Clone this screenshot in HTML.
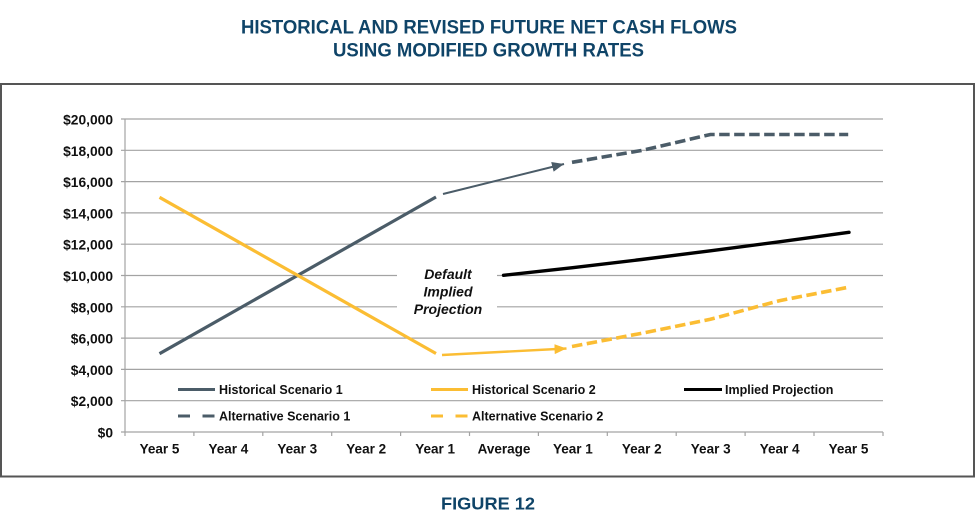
<!DOCTYPE html>
<html>
<head>
<meta charset="utf-8">
<style>
  html,body{margin:0;padding:0;background:#fff;}
  body{width:976px;height:532px;overflow:hidden;}
  svg{display:block;}
  text{font-family:"Liberation Sans", Arial, sans-serif;}
</style>
</head>
<body>
<svg width="976" height="532" viewBox="0 0 976 532" xmlns="http://www.w3.org/2000/svg">
  <defs>
    <marker id="arD" viewBox="0 0 12 10" refX="12" refY="5" markerWidth="12" markerHeight="10" markerUnits="userSpaceOnUse" orient="auto">
      <path d="M0,0 L12,5 L0,10 z" fill="#4b5c68"/>
    </marker>
    <marker id="arY" viewBox="0 0 12 10" refX="12" refY="5" markerWidth="12" markerHeight="10" markerUnits="userSpaceOnUse" orient="auto">
      <path d="M0,0 L12,5 L0,10 z" fill="#fbbd33"/>
    </marker>
  </defs>

  <!-- Title -->
  <g fill="#0f4468" font-weight="bold" font-size="19.5" text-anchor="middle">
    <text x="489" y="33.3" textLength="496" lengthAdjust="spacingAndGlyphs">HISTORICAL AND REVISED FUTURE NET CASH FLOWS</text>
    <text x="488.5" y="56.7" textLength="311" lengthAdjust="spacingAndGlyphs">USING MODIFIED GROWTH RATES</text>
  </g>

  <!-- Frame -->
  <rect x="1" y="84" width="973" height="392.5" fill="none" stroke="#555" stroke-width="2"/>

  <!-- Gridlines -->
  <g stroke="#a3a3a3" stroke-width="1.2">
    <line x1="121" y1="119" x2="883" y2="119"/>
    <line x1="121" y1="150.3" x2="883" y2="150.3"/>
    <line x1="121" y1="181.6" x2="883" y2="181.6"/>
    <line x1="121" y1="212.9" x2="883" y2="212.9"/>
    <line x1="121" y1="244.2" x2="883" y2="244.2"/>
    <line x1="121" y1="275.5" x2="883" y2="275.5"/>
    <line x1="121" y1="306.8" x2="883" y2="306.8"/>
    <line x1="121" y1="338.1" x2="883" y2="338.1"/>
    <line x1="121" y1="369.4" x2="883" y2="369.4"/>
    <line x1="121" y1="400.7" x2="883" y2="400.7"/>
    <line x1="121" y1="432" x2="883" y2="432"/>
    <!-- y axis -->
    <line x1="125" y1="119" x2="125" y2="432"/>
    <!-- x ticks -->
    <line x1="125" y1="432" x2="125" y2="436"/>
    <line x1="193.9" y1="432" x2="193.9" y2="436"/>
    <line x1="262.8" y1="432" x2="262.8" y2="436"/>
    <line x1="331.7" y1="432" x2="331.7" y2="436"/>
    <line x1="400.6" y1="432" x2="400.6" y2="436"/>
    <line x1="469.5" y1="432" x2="469.5" y2="436"/>
    <line x1="538.4" y1="432" x2="538.4" y2="436"/>
    <line x1="607.3" y1="432" x2="607.3" y2="436"/>
    <line x1="676.2" y1="432" x2="676.2" y2="436"/>
    <line x1="745.1" y1="432" x2="745.1" y2="436"/>
    <line x1="814" y1="432" x2="814" y2="436"/>
    <line x1="883" y1="432" x2="883" y2="436"/>
  </g>

  <!-- Y labels -->
  <g font-weight="bold" font-size="13.8" text-anchor="end" fill="#111">
    <text x="113" y="124.5">$20,000</text>
    <text x="113" y="155.8">$18,000</text>
    <text x="113" y="187.1">$16,000</text>
    <text x="113" y="218.4">$14,000</text>
    <text x="113" y="249.7">$12,000</text>
    <text x="113" y="281">$10,000</text>
    <text x="113" y="312.3">$8,000</text>
    <text x="113" y="343.6">$6,000</text>
    <text x="113" y="374.9">$4,000</text>
    <text x="113" y="406.2">$2,000</text>
    <text x="113" y="437.5">$0</text>
  </g>

  <!-- X labels -->
  <g font-weight="bold" font-size="13.5" text-anchor="middle" fill="#111">
    <text x="159.5" y="453.5">Year 5</text>
    <text x="228.4" y="453.5">Year 4</text>
    <text x="297.3" y="453.5">Year 3</text>
    <text x="366.2" y="453.5">Year 2</text>
    <text x="435.1" y="453.5">Year 1</text>
    <text x="504" y="453.5">Average</text>
    <text x="572.9" y="453.5">Year 1</text>
    <text x="641.8" y="453.5">Year 2</text>
    <text x="710.7" y="453.5">Year 3</text>
    <text x="779.6" y="453.5">Year 4</text>
    <text x="848.5" y="453.5">Year 5</text>
  </g>

  <!-- Default implied projection label -->
  <rect x="397" y="262" width="100" height="57" fill="#fff"/>
  <g font-weight="bold" font-style="italic" font-size="14" text-anchor="middle" fill="#111">
    <text x="448" y="279">Default</text>
    <text x="448" y="296.3">Implied</text>
    <text x="448" y="314">Projection</text>
  </g>

  <!-- Historical Scenario 1 -->
  <line x1="159.5" y1="353.7" x2="436" y2="197" stroke="#4b5c68" stroke-width="3.2"/>
  <!-- Historical Scenario 2 -->
  <line x1="159.5" y1="197.3" x2="436" y2="353.5" stroke="#fbbd33" stroke-width="3.2"/>

  <!-- Arrows -->
  <line x1="443" y1="194" x2="564" y2="164" stroke="#4b5c68" stroke-width="2" marker-end="url(#arD)"/>
  <line x1="442" y1="355" x2="566.5" y2="348.5" stroke="#fbbd33" stroke-width="2.4" marker-end="url(#arY)"/>

  <!-- Alternative Scenario 1 dashed -->
  <polyline points="572,162.3 641.5,150.5 710.4,134.5 779.3,134.5 848.2,134.5" fill="none" stroke="#4b5c68" stroke-width="3.6" stroke-dasharray="10.5 4.5"/>
  <!-- Alternative Scenario 2 dashed -->
  <polyline points="572,346.5 641.5,333.3 710.4,319.3 779.3,300.7 848.2,287.3" fill="none" stroke="#fbbd33" stroke-width="3.6" stroke-dasharray="10.5 4.5"/>

  <!-- Implied projection -->
  <polyline points="503.5,275.3 572.6,267.7 641.5,259.5 710.4,250.8 779.3,241.8 849,232.3" fill="none" stroke="#000" stroke-width="3.4" stroke-linecap="round" stroke-linejoin="round"/>

  <!-- Legend -->
  <g stroke-width="3">
    <line x1="178" y1="389.5" x2="215" y2="389.5" stroke="#4b5c68"/>
    <line x1="431" y1="389.5" x2="468" y2="389.5" stroke="#fbbd33"/>
    <line x1="684" y1="389.5" x2="722" y2="389.5" stroke="#000"/>
    <line x1="178" y1="416" x2="215" y2="416" stroke="#4b5c68" stroke-dasharray="12 12.5"/>
    <line x1="431" y1="416" x2="468" y2="416" stroke="#fbbd33" stroke-dasharray="12 12.5"/>
  </g>
  <g font-weight="bold" font-size="12.5" fill="#111">
    <text x="219" y="394">Historical Scenario 1</text>
    <text x="472" y="394">Historical Scenario 2</text>
    <text x="725" y="394">Implied Projection</text>
    <text x="219" y="420.5">Alternative Scenario 1</text>
    <text x="472" y="420.5">Alternative Scenario 2</text>
  </g>

  <!-- Figure caption -->
  <text x="488" y="509.5" text-anchor="middle" font-weight="bold" font-size="17.8" fill="#0f4468" textLength="94" lengthAdjust="spacingAndGlyphs">FIGURE 12</text>
</svg>
</body>
</html>
